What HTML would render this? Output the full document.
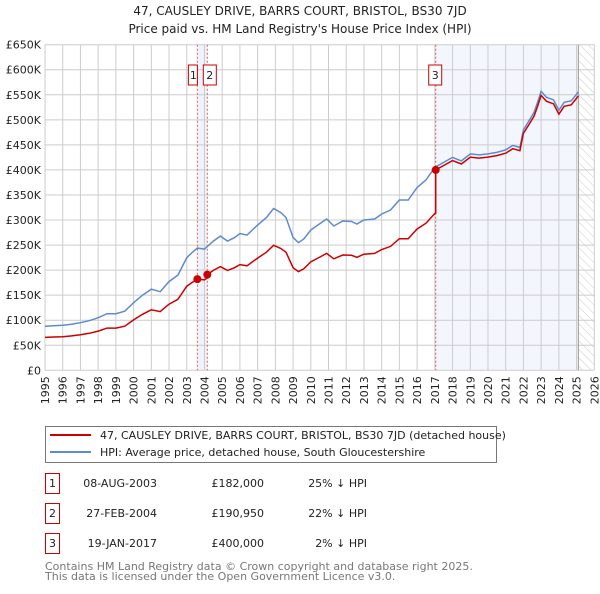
<!DOCTYPE html>
<html><head><meta charset="utf-8">
<style>
body{margin:0;background:#fff;font-family:"DejaVu Sans","Liberation Sans",sans-serif;}
svg text{font-family:"DejaVu Sans","Liberation Sans",sans-serif;}
</style></head>
<body>
<svg id="chart" width="600" height="590" xmlns="http://www.w3.org/2000/svg">
<defs>
<pattern id="hatch" patternUnits="userSpaceOnUse" width="6" height="6" patternTransform="rotate(-45)">
<line x1="0" y1="0" x2="0" y2="6" stroke="#ccc" stroke-width="1"/>
</pattern>
</defs>
<text x="300" y="15" text-anchor="middle" font-size="12" fill="#222">47, CAUSLEY DRIVE, BARRS COURT, BRISTOL, BS30 7JD</text>
<text x="300" y="33" text-anchor="middle" font-size="12" fill="#222">Price paid vs. HM Land Registry's House Price Index (HPI)</text>
<g id="plot"></g>
<g id="legend">
<rect x="45.5" y="426.5" width="451" height="36" fill="#fff" stroke="#777"/>
<line x1="50" y1="435" x2="91" y2="435" stroke="#cc0000" stroke-width="2"/>
<text x="100" y="439" font-size="11" fill="#222">47, CAUSLEY DRIVE, BARRS COURT, BRISTOL, BS30 7JD (detached house)</text>
<line x1="50" y1="452" x2="91" y2="452" stroke="#5b8bd0" stroke-width="2"/>
<text x="100" y="456" font-size="11" fill="#222">HPI: Average price, detached house, South Gloucestershire</text>
</g>
<g id="table" font-size="11" fill="#222"></g>
<text x="45" y="570" font-size="11" fill="#777">Contains HM Land Registry data © Crown copyright and database right 2025.</text>
<text x="45" y="580" font-size="11" fill="#777">This data is licensed under the Open Government Licence v3.0.</text>
</svg>
<script>
const hpiYears=[1995.0,1995.5,1996,1996.5,1997,1997.5,1998,1998.5,1999,1999.5,2000,2000.5,2001,2001.5,2002,2002.5,2003,2003.3,2003.6,2004,2004.5,2004.9,2005.3,2005.7,2006,2006.4,2007,2007.5,2007.9,2008.3,2008.6,2009,2009.3,2009.6,2010,2010.4,2010.9,2011.3,2011.8,2012.3,2012.6,2013,2013.6,2014,2014.5,2015,2015.5,2016,2016.5,2017,2017.5,2018,2018.5,2019,2019.5,2020,2020.5,2021,2021.4,2021.8,2022.0,2022.3,2022.6,2022.8,2023.0,2023.3,2023.7,2024,2024.3,2024.7,2025.1];
const hpiValues=[88,89,90,92,95,99,105,113,113,118,135,150,162,157,177,190,225,235,244,242,258,268,258,265,273,270,290,305,323,315,305,265,255,262,280,290,302,288,298,297,292,300,302,312,320,340,340,365,380,405,415,425,418,432,430,432,435,440,449,445,480,497,515,535,557,545,540,519,535,538,556];
const saleYears=[2003.6,2004.16,2017.05];
const salePrices=[182000,190950,400000];
const saleLabels=["1","2","3"];
const saleDates=["08-AUG-2003","27-FEB-2004","19-JAN-2017"];
const salePriceText=["£182,000","£190,950","£400,000"];
const saleHpiText=["25% ↓ HPI","22% ↓ HPI","2% ↓ HPI"];
const yTicks=[0,50,100,150,200,250,300,350,400,450,500,550,600,650];
const xTicks=[1995,1996,1997,1998,1999,2000,2001,2002,2003,2004,2005,2006,2007,2008,2009,2010,2011,2012,2013,2014,2015,2016,2017,2018,2019,2020,2021,2022,2023,2024,2025,2026];

const NS="http://www.w3.org/2000/svg";
const X0=45,X1=594.3,Y0=370.3,Y1=44.7;
const xs=y=>X0+(y-1995)/(2026-1995)*(X1-X0);
const ys=v=>Y0-v/650*(Y0-Y1);
const plot=document.getElementById('plot');
function mk(tag,attrs,parent){const e=document.createElementNS(NS,tag);for(const k in attrs)e.setAttribute(k,attrs[k]);(parent||plot).appendChild(e);return e;}
function hpiAt(t){for(let i=0;i<hpiYears.length-1;i++){if(t<=hpiYears[i+1]){const f=(t-hpiYears[i])/(hpiYears[i+1]-hpiYears[i]);return hpiValues[i]+f*(hpiValues[i+1]-hpiValues[i]);}}return hpiValues[hpiValues.length-1];}

let e=mk('rect',{x:xs(saleYears[0]),y:Y1,width:xs(saleYears[1])-xs(saleYears[0]),height:Y0-Y1,fill:'#eef3fc'});


e=mk('rect',{x:xs(saleYears[2]),y:Y1,width:xs(2025.1)-xs(saleYears[2]),height:Y0-Y1,fill:'#f3f6fd'});


e=mk('rect',{x:xs(2025.1),y:Y1,width:X1-xs(2025.1),height:Y0-Y1,fill:'url(#hatch)'});


yTicks.forEach(v=>{
 const l=mk('line',{x1:X0,x2:X1,y1:ys(v),y2:ys(v),stroke:'#ccc','stroke-width':1});
 
 
 const t=mk('text',{x:X0-4,y:ys(v)+4,'text-anchor':'end','font-size':11,fill:'#222'});
 
 
 t.textContent=v===0?'£0':'£'+v+'K';
});
xTicks.forEach(y=>{
 const l=mk('line',{x1:xs(y),x2:xs(y),y1:Y1,y2:Y0,stroke:'#ccc','stroke-width':1});
 
 
 const t=mk('text',{x:0,y:0,'text-anchor':'end','font-size':11,fill:'#222',transform:`translate(${xs(y)+4},${Y0+6}) rotate(-90)`});
 
 
 t.textContent=y;
});
e=mk('line',{x1:xs(2025.1),x2:xs(2025.1),y1:Y1,y2:Y0,stroke:'#999','stroke-width':1});


saleYears.forEach((sy,i)=>{
 const l=mk('line',{x1:xs(sy),x2:xs(sy),y1:Y1,y2:Y0,stroke:'#e06060','stroke-width':1,'stroke-dasharray':'2,2'});
 
 
});
let d=hpiYears.map((y,i)=>(i?'L':'M')+xs(y).toFixed(1)+','+ys(hpiValues[i]).toFixed(1)).join('');
e=mk('path',{d:d,fill:'none',stroke:'#5b8bd0','stroke-width':1.5});


function paidAt(t){let k=0;for(let i=0;i<saleYears.length;i++)if(t>=saleYears[i])k=i;return salePrices[k]/1000*hpiAt(t)/hpiAt(saleYears[k]);}
const pts=[];
hpiYears.forEach(y=>pts.push(y));
saleYears.forEach(y=>{pts.push(y-0.001);pts.push(y);});
pts.sort((a,b)=>a-b);
d=pts.map((t,i)=>(i?'L':'M')+xs(t).toFixed(1)+','+ys(paidAt(t)).toFixed(1)).join('');
e=mk('path',{d:d,fill:'none',stroke:'#cc0000','stroke-width':1.5});


saleYears.forEach((sy,i)=>{
 const c=mk('circle',{cx:xs(sy),cy:ys(salePrices[i]/1000),r:4,fill:'#cc0000'});
 
 
 const bx=i===0?xs(sy)-9:(i===1?xs(sy)-4:xs(sy)-7);
 const g=mk('g',{});
 
 
 mk('rect',{x:bx,y:65,width:(i===0?9:13),height:20,fill:'#fff',stroke:'#cc0000','stroke-width':1},g);
 const t=mk('text',{x:bx+(i===0?5:6.5),y:79,'text-anchor':'middle','font-size':11,fill:'#222'},g);
 t.textContent=saleLabels[i];
});
const tb=document.getElementById('table');
saleLabels.forEach((lab,i)=>{
 const cy=483+i*30;
 const g=mk('g',{},tb);
 
 
 mk('rect',{x:45.5,y:cy-9.5,width:14,height:20,fill:'#fff',stroke:'#cc0000','stroke-width':1},g);
 const vals=[[lab,52.5,'middle'],[saleDates[i],157,'end'],[salePriceText[i],264,'end'],[saleHpiText[i],367,'end']];
 vals.forEach(v=>{const t=mk('text',{x:v[1],y:cy+4,'text-anchor':v[2],'font-size':11,fill:'#222'},g);t.textContent=v[0];});
});
</script>
</body></html>
